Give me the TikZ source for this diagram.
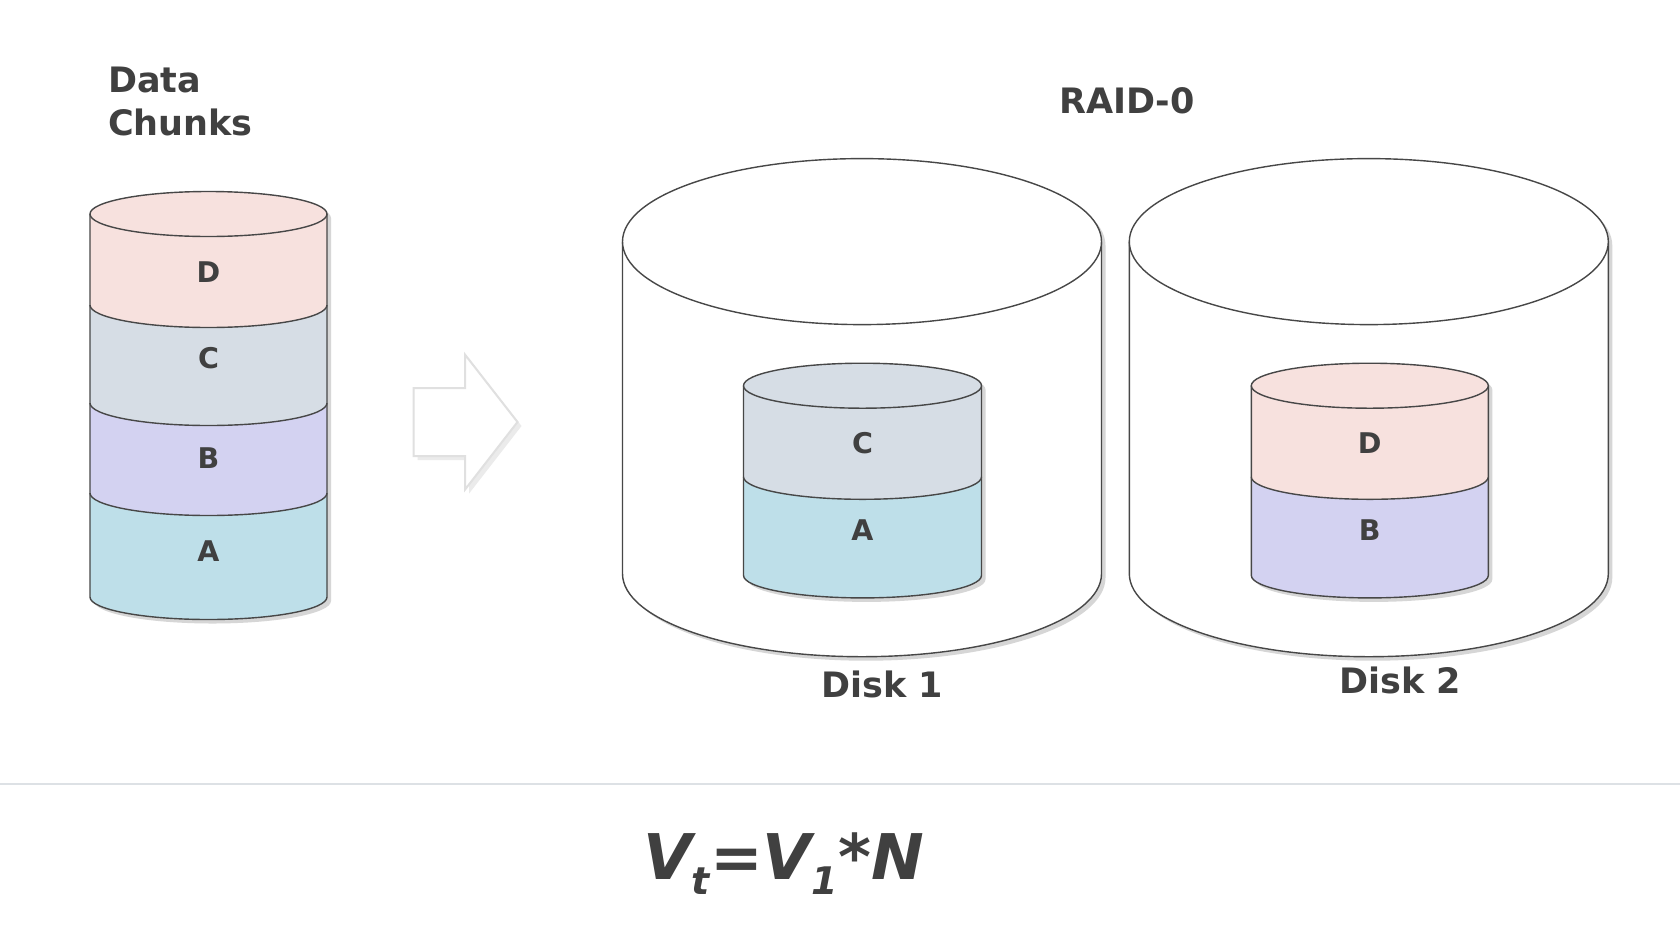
\documentclass[tikz,border=0pt]{standalone}
\usepackage{fontspec}
\setmainfont{DejaVu Sans}
\definecolor{txt}{HTML}{404040}
\definecolor{linec}{HTML}{474747}
\definecolor{cD}{HTML}{F7E1DE}
\definecolor{cC}{HTML}{D6DDE5}
\definecolor{cB}{HTML}{D3D2F1}
\definecolor{cA}{HTML}{BEDFE9}
\definecolor{shad}{HTML}{D6D6D6}
\definecolor{arrowc}{HTML}{E0E0E0}
\definecolor{rulec}{HTML}{DDE1E5}
% segment: cx, top, bottom, rx, ry, fill
\newcommand\cylseg[6]{%
  \filldraw[fill=#6, draw=linec, line width=1.4pt]
    ({#1-#4},#2) -- ({#1-#4},#3)
    arc[start angle=180,end angle=360,x radius=#4pt,y radius=#5pt]
    -- ({#1+#4},#2);}
\newcommand\cyltop[5]{%
  \filldraw[fill=#5, draw=linec, line width=1.4pt] (#1,#2) ellipse[x radius=#3pt, y radius=#4pt];}
\newcommand\cylshadow[5]{%
  \fill[shad]
    ({#1-#4+4},{#2+4}) -- ({#1-#4+4},{#3+4})
    arc[start angle=180,end angle=360,x radius=#4pt,y radius=#5pt]
    -- ({#1+#4+4},{#2+4})
    arc[start angle=0,end angle=180,x radius=#4pt,y radius=#5pt] -- cycle;}
\tikzset{
  lbl/.style={text=txt, font=\bfseries\fontsize{35}{43}\selectfont, inner sep=0pt},
  seglbl/.style={text=txt, font=\bfseries\fontsize{28.5}{28.5}\selectfont, inner sep=0pt},
}
\begin{document}
\begin{tikzpicture}[x=1pt,y=-1pt]
\fill[white] (0,0) rectangle (1680,943);
\useasboundingbox (0,0) rectangle (1680,943);

% titles
\node[lbl, anchor=base west, align=left] (title) at (108,135) {Data\\Chunks};
\node[lbl, anchor=base] (raid) at (1127,113) {RAID-0};

% left stack
\cylshadow{208.5}{214}{597}{118.5}{22.5}
\cylseg{208.5}{493}{597}{118.5}{22.5}{cA}
\cylseg{208.5}{403}{493}{118.5}{22.5}{cB}
\cylseg{208.5}{305}{403}{118.5}{22.5}{cC}
\cylseg{208.5}{214}{305}{118.5}{22.5}{cD}
\cyltop{208.5}{214}{118.5}{22.5}{cD}
\node[seglbl] (sD) at (208.5,272) {D};
\node[seglbl] (sC) at (208.5,358) {C};
\node[seglbl] (sB) at (208.5,458.5) {B};
\node[seglbl] (sA) at (208.5,551) {A};

% arrow
\fill[black!8] (417.5,392) -- (469,392) -- (469,358.6) -- (521.5,426) -- (469,493.6) -- (469,460) -- (417.5,460) -- cycle;
\draw[arrowc, line width=2pt, fill=white, line join=miter]
  (413.5,388) -- (465,388) -- (465,354.6) -- (517.5,422) -- (465,489.6) -- (465,456) -- (413.5,456) -- cycle;

% disk 1
\cylshadow{862}{241.6}{573.7}{239.5}{83}
\cylseg{862}{241.6}{573.7}{239.5}{83}{white}
\cyltop{862}{241.6}{239.5}{83}{white}
\cylshadow{862.5}{385.7}{575.4}{119}{22.5}
\cylseg{862.5}{476.8}{575.4}{119}{22.5}{cA}
\cylseg{862.5}{385.7}{476.8}{119}{22.5}{cC}
\cyltop{862.5}{385.7}{119}{22.5}{cC}
\node[seglbl] (d1C) at (862.5,443.6) {C};
\node[seglbl] (d1A) at (862.5,530.3) {A};
\node[lbl, anchor=base] (disk1) at (882,697.5) {Disk 1};

% disk 2
\cylshadow{1368.8}{241.6}{573.7}{239.5}{83}
\cylseg{1368.8}{241.6}{573.7}{239.5}{83}{white}
\cyltop{1368.8}{241.6}{239.5}{83}{white}
\cylshadow{1369.8}{385.7}{575.4}{118.5}{22.5}
\cylseg{1369.8}{476.8}{575.4}{118.5}{22.5}{cB}
\cylseg{1369.8}{385.7}{476.8}{118.5}{22.5}{cD}
\cyltop{1369.8}{385.7}{118.5}{22.5}{cD}
\node[seglbl] (d2D) at (1369.8,443.6) {D};
\node[seglbl] (d2B) at (1369.8,530.3) {B};
\node[lbl, anchor=base] (disk2) at (1400,693) {Disk 2};

% separator
\coordinate (sepL) at (0,784);
\coordinate (sepR) at (1680,784);
\draw[rulec, line width=1.5pt] (sepL) -- (sepR);

% formula
\node[text=txt, anchor=base west, inner sep=0pt] (formula) at (643,879)
  {\fontsize{63}{63}\selectfont\bfseries\itshape V\raisebox{-15pt}{\fontsize{38}{38}\selectfont t}=V\raisebox{-15pt}{\fontsize{38}{38}\selectfont 1}*N};
\end{tikzpicture}
\end{document}
